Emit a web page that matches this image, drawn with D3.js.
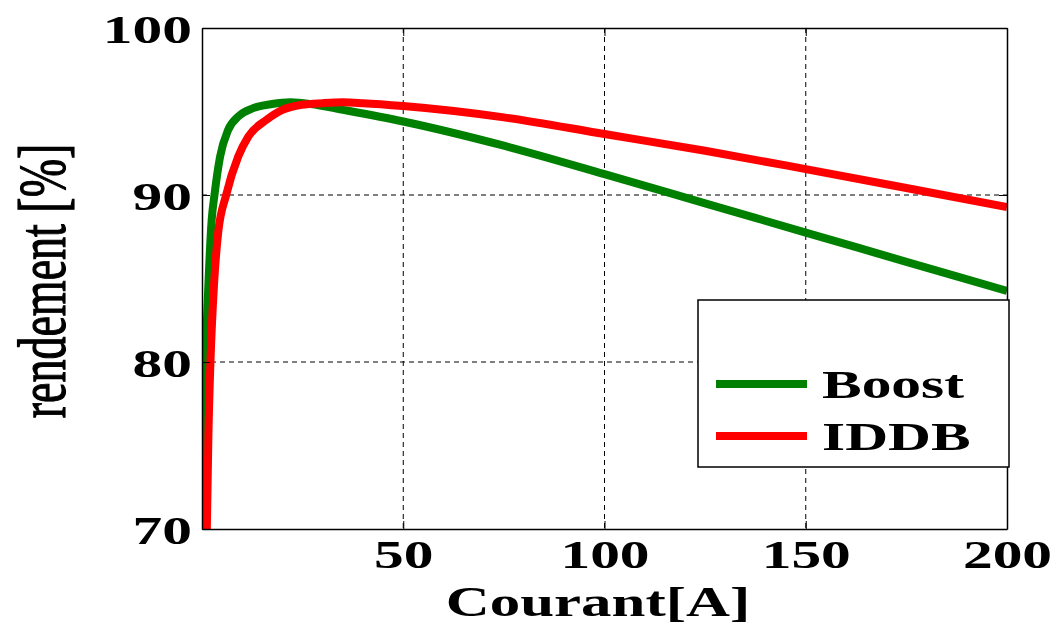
<!DOCTYPE html>
<html>
<head>
<meta charset="utf-8">
<script src="https://cdn.jsdelivr.net/npm/d3@7"></script>
<style>
  body { margin: 0; background: #fff; }
  text { font-family: "Liberation Serif", "Times New Roman", serif; }
</style>
</head>
<body>
<div id="viz"></div>
<script>
// efficiency curves
var boostCurrent = [0.2, 0.5, 0.9, 1.6, 2.4, 3.1, 4.5, 6.5, 9, 12.7, 17.4, 22, 27, 35, 50, 75, 100, 125, 150, 175, 200];
var boostEff     = [70, 75.7, 80, 84.7, 88.5, 90, 92.3, 93.9, 94.7, 95.2, 95.45, 95.55, 95.45, 95.1, 94.4, 92.95, 91.25, 89.5, 87.75, 86.0, 84.25];

var iddbCurrent = [1.2, 1.6, 2.1, 3, 4, 6, 9, 11.5, 16, 20, 24.8, 30, 35, 40, 50, 75, 100, 125, 150, 175, 200];
var iddbEff     = [70, 75.7, 80, 84.7, 87.7, 90, 92.3, 93.5, 94.5, 95.1, 95.4, 95.5, 95.55, 95.5, 95.33, 94.65, 93.65, 92.65, 91.55, 90.42, 89.28];

var seriesNames = ["Boost", "IDDB"];
var seriesColors = ["#008000", "#ff0000"];

var xTicks = [50, 100, 150, 200];
var yTicks = [70, 80, 90, 100];

var w = 1057;
var h = 626;
var pLeft = 202, pRight = 1007, pTop = 28, pBottom = 529;
var stretch = 1.45; // the original figure is stretched horizontally

var svg = d3.select("#viz")
    .append("svg")
    .attr("width", w)
    .attr("height", h);

var x = d3.scaleLinear().domain([0, 200]).range([pLeft, pRight]);
var y = d3.scaleLinear().domain([70, 100]).range([pBottom, pTop]);

// grid
svg.append("g").selectAll("line")
    .data(xTicks.filter(function(d) { return d < 200; }))
    .enter().append("line")
    .attr("x1", function(d) { return x(d); })
    .attr("x2", function(d) { return x(d); })
    .attr("y1", pTop).attr("y2", pBottom)
    .attr("stroke", "#000").attr("stroke-width", 1)
    .attr("stroke-dasharray", "5,4");

svg.append("g").selectAll("line")
    .data(yTicks.filter(function(d) { return d > 70 && d < 100; }))
    .enter().append("line")
    .attr("y1", function(d) { return y(d); })
    .attr("y2", function(d) { return y(d); })
    .attr("x1", pLeft).attr("x2", pRight)
    .attr("stroke", "#000").attr("stroke-width", 1)
    .attr("stroke-dasharray", "5,4");

// curves
svg.append("clipPath").attr("id", "plotclip")
    .append("rect")
    .attr("x", pLeft).attr("y", pTop)
    .attr("width", pRight - pLeft).attr("height", pBottom - pTop);

var line = d3.line()
    .x(function(d) { return x(d[0]); })
    .y(function(d) { return y(d[1]); })
    .curve(d3.curveMonotoneX);

var series = [d3.zip(boostCurrent, boostEff), d3.zip(iddbCurrent, iddbEff)];

svg.append("g").attr("clip-path", "url(#plotclip)")
    .selectAll("path")
    .data(series)
    .enter().append("path")
    .attr("d", line)
    .attr("fill", "none")
    .attr("stroke", function(d, i) { return seriesColors[i]; })
    .attr("stroke-width", 8)
    .attr("stroke-linejoin", "round");

// axes
function styleAxis(g) {
    g.selectAll("path").attr("stroke", "#000").attr("stroke-width", 1.5);
    g.selectAll("line").attr("stroke", "#000").attr("stroke-width", 1);
}

var gx = svg.append("g")
    .attr("transform", "translate(0," + pBottom + ")")
    .call(d3.axisBottom(x).tickValues(xTicks).tickSizeInner(-8).tickSizeOuter(0).tickPadding(12));
var gy = svg.append("g")
    .attr("transform", "translate(" + pLeft + ",0)")
    .call(d3.axisLeft(y).tickValues(yTicks).tickSizeInner(-8).tickSizeOuter(0).tickPadding(7));
var gt = svg.append("g")
    .attr("transform", "translate(0," + pTop + ")")
    .call(d3.axisTop(x).tickValues(xTicks).tickSizeInner(-8).tickSizeOuter(0).tickFormat(""));
var gr = svg.append("g")
    .attr("transform", "translate(" + pRight + ",0)")
    .call(d3.axisRight(y).tickValues(yTicks).tickSizeInner(-8).tickSizeOuter(0).tickFormat(""));

[gx, gy, gt, gr].forEach(styleAxis);

[gx, gy].forEach(function(g) {
    g.selectAll("text")
        .attr("font-family", "Liberation Serif, Times New Roman, serif")
        .attr("font-size", 41)
        .attr("font-weight", "bold")
        .attr("fill", "#000")
        .attr("transform", "scale(" + stretch + ",1)");
});
gx.selectAll("text").attr("dy", "0.66em");
gy.selectAll("text").attr("dy", "0.36em");

// axis titles
svg.append("text")
    .attr("transform", "translate(598,616) scale(" + stretch + ",1)")
    .attr("text-anchor", "middle")
    .attr("font-size", 42)
    .attr("font-weight", "bold")
    .text("Courant[A]");

svg.append("text")
    .attr("transform", "translate(65,281) scale(1.46,1) rotate(-90)")
    .attr("text-anchor", "middle")
    .attr("font-size", 46)
    .attr("stroke", "#000")
    .attr("stroke-width", 0.8)
    .text("rendement [%]");

// legend
var legend = svg.append("g");
legend.append("rect")
    .attr("x", 698).attr("y", 300)
    .attr("width", 311).attr("height", 167)
    .attr("fill", "#fff")
    .attr("stroke", "#000").attr("stroke-width", 1.5);

var items = legend.selectAll("g.item")
    .data(seriesNames)
    .enter().append("g")
    .attr("class", "item")
    .attr("transform", function(d, i) { return "translate(0," + (384 + i * 52) + ")"; });

items.append("line")
    .attr("x1", 716).attr("x2", 807)
    .attr("stroke", function(d, i) { return seriesColors[i]; })
    .attr("stroke-width", 8);

items.append("text")
    .attr("transform", "translate(822,14) scale(" + stretch + ",1)")
    .attr("font-size", 41)
    .attr("font-weight", "bold")
    .text(function(d) { return d; });
</script>
</body>
</html>
